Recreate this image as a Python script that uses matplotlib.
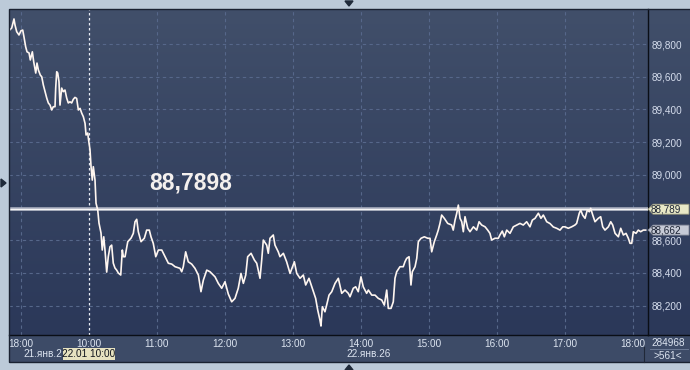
import math
import numpy as np
import matplotlib
matplotlib.use("Agg")
import matplotlib.pyplot as plt
from matplotlib.colors import LinearSegmentedColormap
from matplotlib.patches import Rectangle, Polygon
from matplotlib.ticker import FuncFormatter

# chart minutes (0 = 18:00 of 21 Jan, 60 = 10:00 of 22 Jan, one hour per 60)
minutes = [-10.6, -8.2, -6.2, -5.3, -3.8, -1.8, 0.0, 1.5, 2.6, 4.1,
           5.3, 7.1, 8.2, 10.0, 11.2, 13.0, 14.1, 15.3, 17.0, 18.3,
           19.7, 21.2, 22.7, 24.1, 25.6, 27.1, 28.5, 30.0, 30.6, 31.5,
           32.4, 33.5, 34.4, 35.9, 37.3, 38.8, 40.3, 41.7, 43.2, 44.7,
           46.1, 47.6, 49.1, 50.6, 52.1, 53.6, 55.0, 56.5, 57.4, 58.9,
           59.4, 60.9, 61.8, 62.9, 63.8, 65.3, 66.2, 67.7, 68.8, 70.6,
           71.7, 73.0, 74.1, 75.6, 77.0, 78.5, 80.0, 81.4, 82.9, 84.4,
           85.9, 88.0, 89.4, 90.3, 91.8, 94.2, 97.1, 99.1, 100.6, 102.1,
           103.5, 105.9, 108.8, 110.9, 113.2, 114.7, 116.7, 118.9, 121.2, 124.2,
           127.1, 130.0, 133.0, 135.9, 140.3, 141.8, 143.2, 145.3, 147.6, 150.6,
           153.5, 156.5, 158.8, 160.9, 163.9, 166.8, 169.7, 171.2, 174.1, 177.1,
           180.0, 182.9, 185.9, 188.8, 191.7, 194.1, 196.2, 198.3, 200.0, 203.0,
           205.9, 208.0, 210.9, 212.4, 213.8, 216.8, 218.2, 219.7, 222.6, 224.1,
           227.0, 228.5, 231.5, 234.4, 237.4, 241.2, 243.3, 246.2, 249.1, 251.2,
           254.1, 257.0, 260.0, 261.8, 263.8, 264.7, 265.9, 268.2, 269.7, 271.8,
           274.2, 277.1, 280.0, 283.0, 285.9, 288.8, 290.3, 293.2, 295.3, 297.6,
           300.0, 302.0, 305.0, 306.5, 309.5, 312.4, 315.3, 318.3, 320.6, 322.7,
           324.1, 326.5, 328.5, 330.0, 331.5, 334.4, 337.3, 338.8, 340.3, 342.4,
           344.1, 345.3, 347.7, 349.2, 350.6, 353.0, 355.9, 358.9, 360.9, 362.4,
           364.7, 366.8, 368.2, 369.7, 371.2, 373.5, 376.5, 380.0, 381.4, 383.0,
           384.5, 385.9, 387.4, 388.9, 390.3, 391.8, 394.2, 396.2, 399.2, 402.1,
           404.2, 406.5, 409.5, 411.8, 413.8, 415.3, 418.2, 421.2, 422.6, 424.7,
           426.5, 428.6, 431.5, 434.4, 437.4, 440.3, 443.2, 446.2, 449.1, 451.2,
           453.6, 456.5, 458.8, 460.9, 463.9, 466.8, 469.7, 472.7, 475.6, 478.0,
           480.0, 482.9, 485.9, 488.8, 490.3, 492.6, 493.9, 495.6, 497.7, 499.7,
           501.5, 502.7, 504.5, 506.5, 509.4, 511.5, 513.3, 515.3, 518.3, 520.4,
           522.1, 524.2, 527.1, 529.2, 531.5, 533.9, 535.9, 537.4, 538.9, 540.3,
           542.7, 544.7, 546.8, 549.1, 551.2]

prices = [89.882, 89.899, 89.954, 89.917, 89.876, 89.856, 89.882, 89.886, 89.845, 89.784,
          89.753, 89.746, 89.703, 89.753, 89.692, 89.623, 89.684, 89.642, 89.611, 89.600,
          89.550, 89.509, 89.470, 89.440, 89.427, 89.397, 89.417, 89.417, 89.531, 89.631,
          89.623, 89.570, 89.427, 89.531, 89.509, 89.519, 89.470, 89.440, 89.447, 89.440,
          89.462, 89.474, 89.468, 89.397, 89.407, 89.377, 89.356, 89.315, 89.244, 89.256,
          89.225, 89.152, 89.050, 88.968, 89.050, 88.968, 88.826, 88.785, 88.705, 88.644,
          88.540, 88.621, 88.540, 88.405, 88.499, 88.560, 88.570, 88.460, 88.430, 88.417,
          88.399, 88.387, 88.540, 88.499, 88.499, 88.591, 88.613, 88.642, 88.713, 88.728,
          88.652, 88.591, 88.612, 88.662, 88.662, 88.621, 88.581, 88.499, 88.540, 88.540,
          88.499, 88.459, 88.454, 88.438, 88.428, 88.407, 88.438, 88.529, 88.468, 88.454,
          88.428, 88.387, 88.285, 88.356, 88.417, 88.407, 88.387, 88.376, 88.336, 88.306,
          88.346, 88.271, 88.223, 88.244, 88.306, 88.397, 88.336, 88.387, 88.499, 88.520,
          88.479, 88.459, 88.367, 88.479, 88.601, 88.570, 88.520, 88.612, 88.632, 88.570,
          88.529, 88.499, 88.520, 88.468, 88.397, 88.468, 88.397, 88.367, 88.387, 88.326,
          88.367, 88.306, 88.244, 88.173, 88.111, 88.075, 88.193, 88.162, 88.203, 88.264,
          88.285, 88.336, 88.367, 88.275, 88.295, 88.275, 88.254, 88.306, 88.315, 88.285,
          88.376, 88.315, 88.275, 88.295, 88.264, 88.264, 88.244, 88.234, 88.203, 88.295,
          88.183, 88.183, 88.223, 88.367, 88.407, 88.438, 88.438, 88.468, 88.489, 88.499,
          88.326, 88.407, 88.438, 88.489, 88.591, 88.612, 88.621, 88.612, 88.612, 88.529,
          88.591, 88.632, 88.662, 88.703, 88.754, 88.734, 88.703, 88.693, 88.662, 88.723,
          88.765, 88.815, 88.734, 88.713, 88.652, 88.744, 88.673, 88.652, 88.682, 88.662,
          88.713, 88.693, 88.682, 88.662, 88.642, 88.601, 88.612, 88.612, 88.632, 88.656,
          88.621, 88.662, 88.642, 88.682, 88.693, 88.703, 88.693, 88.713, 88.682, 88.723,
          88.734, 88.765, 88.734, 88.754, 88.713, 88.702, 88.681, 88.673, 88.662, 88.682,
          88.682, 88.673, 88.682, 88.693, 88.703, 88.765, 88.785, 88.754, 88.734, 88.785,
          88.774, 88.795, 88.754, 88.713, 88.734, 88.744, 88.682, 88.662, 88.682, 88.713,
          88.693, 88.642, 88.621, 88.673, 88.632, 88.642, 88.612, 88.581, 88.581, 88.652,
          88.642, 88.662, 88.652, 88.662, 88.662]

hour_pos = [0, 60, 120, 180, 240, 300, 360, 420, 480, 540]
hour_labels = ["18:00", "10:00", "11:00", "12:00", "13:00",
               "14:00", "15:00", "16:00", "17:00", "18:00"]
price_ticks = [88.2, 88.4, 88.6, 88.8, 89.0, 89.2, 89.4, 89.6, 89.8]
level = 88.7898
last_price = prices[-1]
volume_text = "284968"
count_text = ">561<"

W, H = 690, 370
FONT = "Liberation Sans"
FS = 7.2


def fbox(x0, y0, x1, y1):
    # pixel box (top-left origin) -> figure fraction rect
    return [x0 / W, 1 - y1 / H, (x1 - x0) / W, (y1 - y0) / H]


def price_str(v):
    # the terminal cuts the price to 3 decimals, it does not round
    return f"{math.floor(v * 1000 + 1e-6) / 1000:.3f}".replace(".", ",")


fig = plt.figure(figsize=(W / 100, H / 100), dpi=100)
fig.patch.set_facecolor("#bccad9")

# time scale panel (below everything else)
fig.add_artist(Rectangle((9 / W, 1 - 362 / H), (W - 9) / W, 27 / H, zorder=-5,
                         transform=fig.transFigure, facecolor="#3d4b67", edgecolor="none"))

# gradient background of the chart panel (plot + price scale)
bg = fig.add_axes(fbox(9, 9, 690, 335))
grad = np.linspace(0, 1, 256).reshape(-1, 1)
cmap = LinearSegmentedColormap.from_list("panel", ["#2b3859", "#414f6a"])
bg.imshow(grad, extent=[0, 1, 0, 1], aspect="auto", cmap=cmap, origin="lower")
bg.axis("off")

ax = fig.add_axes(fbox(9, 9, 647.7, 335))
ax.set_facecolor("none")
ax.set_xlim(-10.6, 553.0)
ax.set_ylim(88.02, 90.015)

for v in price_ticks:
    ax.axhline(v, color="#56678a", lw=0.8, ls=(0, (3, 3)), zorder=1)
for h in hour_pos:
    if h == 60:
        ax.axvline(h, color="#e8ecf4", lw=0.9, ls=(0, (2, 2)), zorder=2)
    else:
        ax.axvline(h, color="#56678a", lw=0.8, ls=(0, (3, 3)), zorder=1)

# reference level line
ax.axhline(level, color="#a9afbf", lw=2.6, zorder=3)
ax.axhline(level, color="#f6f6f6", lw=1.0, zorder=3)

ax.plot(minutes, prices, color="#fff6f0", lw=1.2, zorder=4)

ax.text(150, 88.95, "88,7898", fontsize=16.5, fontweight="bold", family=FONT,
        color="#f4f0ee", ha="center", va="center", zorder=5)

ax.yaxis.tick_right()
ax.set_yticks(price_ticks)
ax.yaxis.set_major_formatter(FuncFormatter(lambda v, p: f"{v:.3f}".replace(".", ",")))
ax.set_xticks(hour_pos)
ax.set_xticklabels(hour_labels)
ax.tick_params(axis="y", length=0, pad=2.5, labelsize=FS, labelcolor="#d4dcec")
ax.tick_params(axis="x", length=0, pad=3.0, labelsize=FS, labelcolor="#dce4f0")
for lab in ax.get_xticklabels() + ax.get_yticklabels():
    lab.set_family(FONT)
for s in ["top", "left"]:
    ax.spines[s].set_visible(False)
ax.spines["right"].set_color("#0a0e16")
ax.spines["bottom"].set_color("#0a0e16")
ax.spines["right"].set_linewidth(1.0)
ax.spines["bottom"].set_linewidth(1.0)

# overlay in pixel coordinates (bottom-left origin) for the decorations
ov = fig.add_axes([0, 0, 1, 1])
ov.set_xlim(0, W)
ov.set_ylim(0, H)
ov.axis("off")
ov.set_facecolor("none")

fig.canvas.draw()


def price_to_px(v):
    return ax.transData.transform((0, v))[1]


ov.plot([647.7, W], [H - 335, H - 335], color="#0a0e16", lw=1.0)
ov.add_patch(Rectangle((8.5, H - 362), W, 353.5, fill=False, edgecolor="#1a2232", lw=1.0))

for v, face, edge in [(level, "#e8e8c6", "#8f8f78"), (last_price, "#c6cad6", "#7f8494")]:
    yc = price_to_px(v)
    ov.add_patch(Polygon([(648, yc), (653, yc + 5), (689, yc + 5), (689, yc - 5), (653, yc - 5)],
                         closed=True, facecolor=face, edgecolor=edge, lw=0.6, zorder=6))
    ov.text(651, yc, price_str(v), fontsize=FS, family=FONT,
            color="#1c2334", ha="left", va="center", zorder=7)

# second row of the time scale
ov.text(43, H - 354, "21.янв.2", fontsize=FS, family=FONT, color="#dce4f0",
        ha="center", va="center")
ov.add_patch(Rectangle((63, H - 360), 52, 12, facecolor="#e6e2c0", edgecolor="none", zorder=6))
ov.text(89, H - 354, "22.01 10:00", fontsize=FS, family=FONT, color="#10141c",
        ha="center", va="center", zorder=7)
ov.text(369, H - 354, "22.янв.26", fontsize=FS, family=FONT, color="#dce4f0",
        ha="center", va="center")

# counters box bottom right
ov.text(668, H - 343, volume_text, fontsize=FS, family=FONT, color="#dce4f0",
        ha="center", va="center")
ov.text(668, H - 356, count_text, fontsize=FS, family=FONT, color="#dce4f0",
        ha="center", va="center")
ov.plot([650, 688], [H - 349, H - 349], color="#6d7b96", lw=0.7)
ov.plot([643.5, 643.5], [H - 362, H - 347], color="#202838", lw=0.8)

# small scroll markers
ov.add_patch(Polygon([(345, H - 1), (353, H - 1), (349, H - 6)], color="#1f2a3a"))
ov.add_patch(Polygon([(1, H - 179), (1, H - 187), (6, H - 183)], color="#1f2a3a"))
ov.add_patch(Polygon([(345, 0), (353, 0), (349, 5)], color="#1f2a3a"))

fig.savefig("out.png", dpi=100, facecolor=fig.get_facecolor())
